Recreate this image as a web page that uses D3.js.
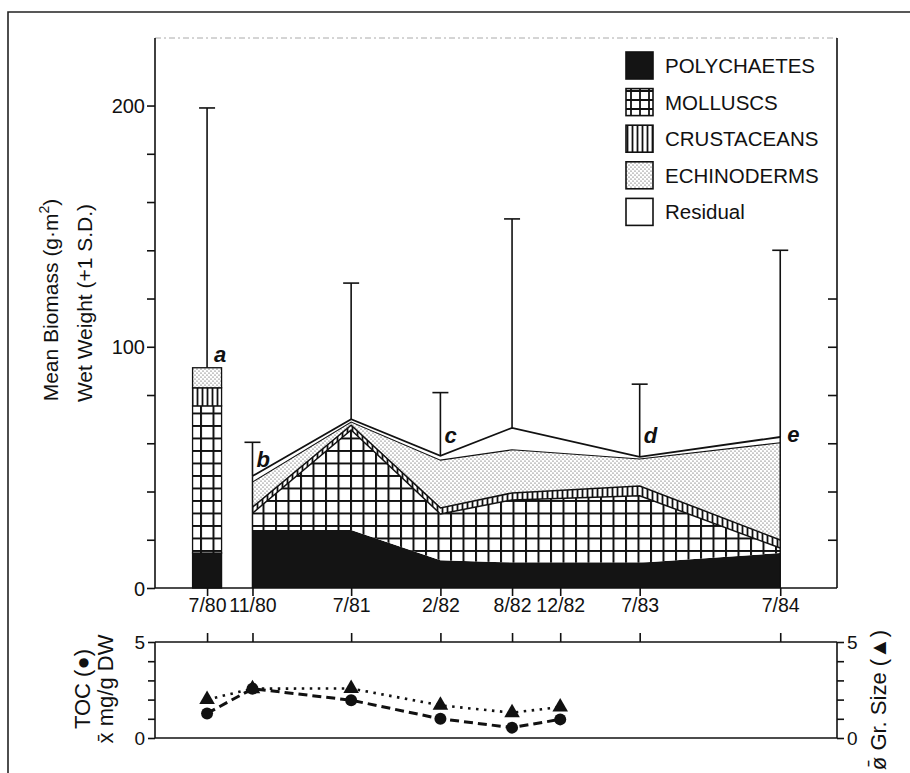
<!DOCTYPE html>
<html><head><meta charset="utf-8">
<script src="https://cdn.jsdelivr.net/npm/d3@7"></script>
<style>
body{margin:0;background:#fff;}
svg text{font-family:"Liberation Sans",Arial,Helvetica,sans-serif;fill:#111;}
</style></head>
<body><svg id="c" width="910" height="773"></svg>
<script>
// ---- data ----
const sampleLabels = ["7/80","11/80","7/81","2/82","8/82","7/83","7/84"];
const sampleDays   = ["1980-07-12","1980-11-05","1981-07-15","1982-02-28","1982-08-30","1983-07-22","1984-07-15"];
const polychaetes  = [14.5, 24, 24, 11.5, 10.5, 10.5, 14.5];
const molluscs     = [61, 7, 41.5, 19.2, 26, 27.7, 2.1];
const crustaceans  = [7.5, 2.5, 2, 2.5, 2.9, 4.1, 3.3];
const echinoderms  = [8.3, 10.4, 1.3, 19.8, 17.9, 11.2, 40.3];
const residual     = [0, 2.5, 1.2, 1.8, 9.1, 0.9, 2.4];
const sdPlus       = [107.7, 14, 56.4, 26.2, 86.6, 30.1, 77.4];
const siteLetters  = ["a","b","","c","","d","e"];
const letterLevel  = [93.7, 50.2, 0, 60.1, 0, 60.1, 60.5];

const tickLabels = ["7/80","11/80","7/81","2/82","8/82","12/82","7/83","7/84"];
const tickDays   = ["1980-07-12","1980-11-05","1981-07-15","1982-02-28","1982-08-30","1982-12-31","1983-07-22","1984-07-15"];

const sedDays  = ["1980-07-12","1980-11-05","1981-07-15","1982-02-28","1982-08-30","1982-12-31"];
const tocVals  = [1.28, 2.57, 1.97, 1.0, 0.54, 0.97];
const grainVals= [2.0, 2.57, 2.58, 1.7, 1.32, 1.61];

const seriesNames = ["POLYCHAETES","MOLLUSCS","CRUSTACEANS","ECHINODERMS","Residual"];
const yTicks = [0,20,40,60,80,100,120,140,160,180,200];
const yLabels = [0,100,200];
const yRightTicks = [20,40,60,80,100,120];

// ---- setup ----
const svg = d3.select("#c");
const parse = d3.timeParse("%Y-%m-%d");
const L=155, R=837, T=38, B=588, BT=642, BB=738;
const x = d3.scaleTime().domain([new Date(1980,2,1), new Date(1984,11,7)]).range([L,R]);
const y = d3.scaleLinear().domain([0,228]).range([B,T]);
const yb = d3.scaleLinear().domain([0,5]).range([BB,BT]);

// patterns
const defs = svg.append("defs");
function gridPat(id, s, w){
  const p = defs.append("pattern").attr("id",id).attr("patternUnits","userSpaceOnUse").attr("width",s).attr("height",s);
  p.append("rect").attr("width",s).attr("height",s).attr("fill","#fff");
  p.append("path").attr("d",`M0,1H${s}M1,0V${s}`).attr("stroke","#111").attr("stroke-width",w);
}
gridPat("grid",12.5,2);
gridPat("gridL",9,1.8);
const sp = defs.append("pattern").attr("id","stripes").attr("patternUnits","userSpaceOnUse").attr("width",5).attr("height",10);
sp.append("rect").attr("width",5).attr("height",10).attr("fill","#fff");
sp.append("line").attr("x1",2.5).attr("x2",2.5).attr("y1",0).attr("y2",10).attr("stroke","#111").attr("stroke-width",1.8);
const dp = defs.append("pattern").attr("id","dots").attr("patternUnits","userSpaceOnUse").attr("width",4).attr("height",4);
dp.append("rect").attr("width",4).attr("height",4).attr("fill","#fff");
dp.append("circle").attr("cx",1).attr("cy",1).attr("r",0.6).attr("fill","#333");
dp.append("circle").attr("cx",3).attr("cy",3).attr("r",0.6).attr("fill","#333");
const fills = ["#141414","url(#grid)","url(#stripes)","url(#dots)","#fff"];
const legendFills = ["#141414","url(#gridL)","url(#stripes)","url(#dots)","#fff"];

// outer frame
svg.append("path").attr("d","M8,773V12H910").attr("fill","none").attr("stroke","#222").attr("stroke-width",1.6);

// stacked data
const rows = sampleDays.map((d,i)=>({date:parse(d), i,
  p:polychaetes[i], m:molluscs[i], c:crustaceans[i], e:echinoderms[i], r:residual[i]}));
const keys = ["p","m","c","e","r"];
const stacked = d3.stack().keys(keys)(rows);
const totals = rows.map((d,i)=>stacked[4][i][1]);

// area part (samples 1..6)
const area = d3.area().x(d=>x(d.data.date)).y0(d=>y(d[0])).y1(d=>y(d[1]));
const line = d3.line().x(d=>x(d.data.date)).y(d=>y(d[1]));
stacked.forEach((s,k)=>{
  svg.append("path").attr("d",area(s.slice(1))).attr("fill",fills[k]).attr("stroke","none");
});
const lw=[0,1.5,1.5,1.1,1.8];
stacked.forEach((s,k)=>{
  if(k===0) return;
  svg.append("path").attr("d",line(s.slice(1))).attr("fill","none").attr("stroke","#111").attr("stroke-width",lw[k]);
});
[1,6].forEach(i=>{
  svg.append("line").attr("x1",x(rows[i].date)).attr("x2",x(rows[i].date))
    .attr("y1",y(0)).attr("y2",y(totals[i])).attr("stroke","#111").attr("stroke-width",1.5);
});

// 7/80 bar
const bw=29;
stacked.forEach((s,k)=>{
  const d=s[0]; if(d[1]-d[0]<=0) return;
  svg.append("rect").attr("x",x(rows[0].date)-bw/2).attr("width",bw)
    .attr("y",y(d[1])).attr("height",y(d[0])-y(d[1])).attr("fill",fills[k])
    .attr("stroke","#111").attr("stroke-width",1.3);
});

// error bars
rows.forEach((d,i)=>{
  const cx=x(d.date), t=y(totals[i]+sdPlus[i]);
  svg.append("line").attr("x1",cx).attr("x2",cx).attr("y1",y(totals[i])).attr("y2",t).attr("stroke","#111").attr("stroke-width",1.6);
  svg.append("line").attr("x1",cx-8).attr("x2",cx+8).attr("y1",t).attr("y2",t).attr("stroke","#111").attr("stroke-width",1.6);
});

// site letters
rows.forEach((d,i)=>{
  if(!siteLetters[i]) return;
  const off = i===0?7:(i===6?7:4);
  svg.append("text").attr("x",x(d.date)+off).attr("y",y(letterLevel[i])).text(siteLetters[i])
    .attr("font-size",22).attr("font-weight","bold").attr("font-style","italic");
});

// main axes frame
svg.append("line").attr("x1",L).attr("x2",R).attr("y1",T).attr("y2",T).attr("stroke","#aaa").attr("stroke-width",1).attr("stroke-dasharray","6,3,2,3");
const gl = svg.append("g").attr("transform",`translate(${L},0)`)
  .call(d3.axisLeft(y).tickValues(yTicks).tickSize(8).tickFormat(v=>yLabels.includes(v)?v:""));
const gr = svg.append("g").attr("transform",`translate(${R},0)`)
  .call(d3.axisLeft(y).tickValues(yRightTicks).tickSize(0).tickFormat(""));
gr.selectAll(".tick line").attr("x2",-9);
const gx = svg.append("g").attr("transform",`translate(0,${B})`)
  .call(d3.axisBottom(x).tickValues(tickDays.map(parse)).tickSize(8).tickFormat((d,i)=>tickLabels[i]));
[gl,gr,gx].forEach(g=>{
  g.select(".domain").attr("stroke","#111").attr("stroke-width",1.6);
  g.selectAll(".tick line").attr("stroke","#111").attr("stroke-width",1.6);
  g.selectAll("text").attr("font-family","Liberation Sans, Arial, sans-serif").attr("fill","#111");
});
gl.select(".domain").attr("d",`M0,${B}V${T}`);
gr.select(".domain").attr("d",`M0,${B}V${T}`);
gx.select(".domain").attr("d",`M${L},0H${R}`);
gl.selectAll("text").attr("font-size",20).attr("x",-10).attr("dy","0.36em");
gx.selectAll("text").attr("font-size",19.5).attr("y",10).attr("dy","0.71em");

// y title
const yt1 = svg.append("text").attr("transform","translate(58,300) rotate(-90)").attr("text-anchor","middle").attr("font-size",21);
yt1.append("tspan").text("Mean Biomass (g\u00B7m");
yt1.append("tspan").text("2").attr("font-size",14).attr("dy",-9);
yt1.append("tspan").text(")").attr("dy",9);
svg.append("text").attr("transform","translate(92,303) rotate(-90)").attr("text-anchor","middle").attr("font-size",21).text("Wet Weight (+1 S.D.)");

// legend
seriesNames.forEach((n,k)=>{
  const ty=52+k*36.6;
  svg.append("rect").attr("x",626).attr("y",ty).attr("width",27).attr("height",27)
    .attr("fill",legendFills[k]).attr("stroke","#111").attr("stroke-width",1.6);
  svg.append("text").attr("x",665).attr("y",ty+21).attr("font-size",20.5).text(n);
});

// ---- bottom panel ----
const bl = svg.append("g").attr("transform",`translate(${L},0)`)
  .call(d3.axisLeft(yb).tickValues([0,1,2,3,4,5]).tickSize(7).tickFormat(v=>(v===0||v===5)?v:""));
const br = svg.append("g").attr("transform",`translate(${R},0)`)
  .call(d3.axisRight(yb).tickValues([0,1,2,3,4,5]).tickSize(7).tickFormat(v=>(v===0||v===5)?v:""));
const bx = svg.append("g").attr("transform",`translate(0,${BT})`)
  .call(d3.axisTop(x).tickValues(tickDays.map(parse)).tickSize(9).tickFormat(""));
[bl,br,bx].forEach(g=>{
  g.select(".domain").attr("stroke","#111").attr("stroke-width",1.6);
  g.selectAll(".tick line").attr("stroke","#111").attr("stroke-width",1.6);
  g.selectAll("text").attr("font-family","Liberation Sans, Arial, sans-serif").attr("fill","#111").attr("font-size",19);
});
bl.select(".domain").attr("d",`M0,${BB}V${BT}`);
br.select(".domain").attr("d",`M0,${BB}V${BT}`);
bx.select(".domain").attr("d",`M${L},0H${R}`);
svg.append("line").attr("x1",L).attr("x2",R).attr("y1",BB).attr("y2",BB).attr("stroke","#111").attr("stroke-width",1.6);
bl.selectAll("text").attr("x",-10);
br.selectAll("text").attr("x",10);

const sed = sedDays.map((d,i)=>({date:parse(d), toc:tocVals[i], g:grainVals[i]}));
svg.append("path").attr("d",d3.line().x(d=>x(d.date)).y(d=>yb(d.g))(sed))
  .attr("fill","none").attr("stroke","#111").attr("stroke-width",2.6).attr("stroke-dasharray","2.5,5.5");
svg.append("path").attr("d",d3.line().x(d=>x(d.date)).y(d=>yb(d.toc))(sed))
  .attr("fill","none").attr("stroke","#111").attr("stroke-width",3).attr("stroke-dasharray","9,5");
svg.selectAll(".tri").data(sed).enter().append("path")
  .attr("transform",d=>`translate(${x(d.date)},${yb(d.g)})`)
  .attr("d",d3.symbol(d3.symbolTriangle,105)).attr("fill","#111");
svg.selectAll(".dot").data(sed).enter().append("circle")
  .attr("cx",d=>x(d.date)).attr("cy",d=>yb(d.toc)).attr("r",6).attr("fill","#111");

// bottom titles
svg.append("text").attr("transform","translate(90,689) rotate(-90)").attr("text-anchor","middle").attr("font-size",22).text("TOC (\u25CF)");
svg.append("text").attr("transform","translate(113,689) rotate(-90)").attr("text-anchor","middle").attr("font-size",22).text("x\u0304 mg/g DW");
svg.append("text").attr("transform","translate(886,700) rotate(-90)").attr("text-anchor","middle").attr("font-size",22).text("\u00F8\u0304 Gr. Size (\u25B2)");
</script></body></html>
